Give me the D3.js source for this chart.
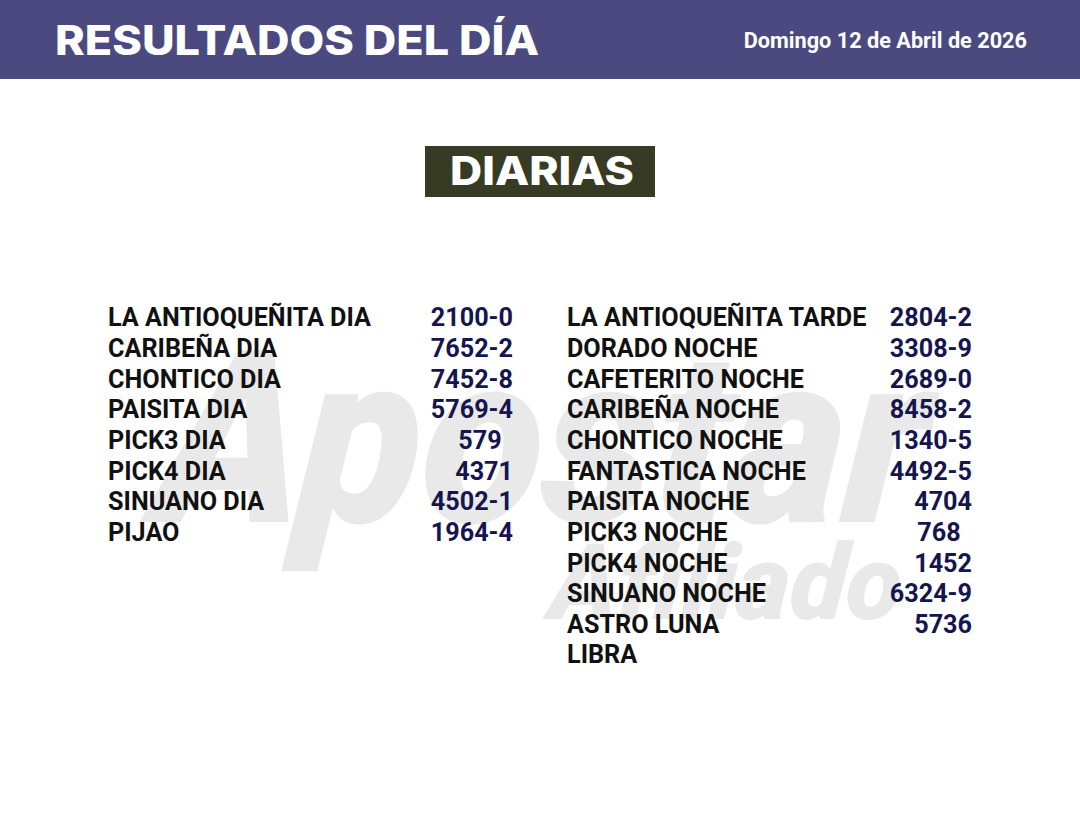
<!DOCTYPE html>
<html>
<head>
<meta charset="utf-8">
<title>Resultados del día</title>
<script src="https://cdn.jsdelivr.net/npm/d3@7"></script>
<style>
  html, body { margin:0; padding:0; background:#fff; }
  svg { display:block; }
</style>
</head>
<body>
<div id="chart"></div>
<script>
var title = "RESULTADOS DEL DÍA";
var dateLabel = "Domingo 12 de Abril de 2026";
var section = "DIARIAS";

var leftNames = ["LA ANTIOQUEÑITA DIA","CARIBEÑA DIA","CHONTICO DIA","PAISITA DIA","PICK3 DIA","PICK4 DIA","SINUANO DIA","PIJAO"];
var leftValues = ["2100-0","7652-2","7452-8","5769-4","579\u00a0\u2009","4371","4502-1","1964-4"];

var rightNames = ["LA ANTIOQUEÑITA TARDE","DORADO NOCHE","CAFETERITO NOCHE","CARIBEÑA NOCHE","CHONTICO NOCHE","FANTASTICA NOCHE","PAISITA NOCHE","PICK3 NOCHE","PICK4 NOCHE","SINUANO NOCHE","ASTRO LUNA","LIBRA"];
var rightValues = ["2804-2","3308-9","2689-0","8458-2","1340-5","4492-5","4704","768\u00a0\u2009","1452","6324-9","5736",""];

var width = 1080, height = 824;

var svg = d3.select("#chart").append("svg")
  .attr("width", width).attr("height", height)
  .attr("viewBox", "0 0 " + width + " " + height);

svg.append("rect").attr("width", width).attr("height", height).attr("fill", "#fff");

// watermark goes under the table, extra skew on top of the italic
function watermark(text, x, y, size, w) {
  svg.append("text")
    .attr("transform", "translate(" + x + "," + y + ") skewX(-5)")
    .attr("textLength", w).attr("lengthAdjust", "spacingAndGlyphs")
    .style("font-family", "Roboto").style("font-size", size + "px")
    .style("font-weight", 900).style("font-style", "italic")
    .attr("fill", "#e9e9e9")
    .text(text);
}
watermark("Apostar", 152, 522, 242, 770);
watermark("Afiliado", 548, 619, 105, 352);

// header
svg.append("rect").attr("width", width).attr("height", 79).attr("fill", "#4b4a80");
svg.append("text").attr("x", 55).attr("y", 55)
  .attr("textLength", 484).attr("lengthAdjust", "spacingAndGlyphs")
  .style("font-family", "Inter").style("font-weight", 800).style("font-size", "40.5px")
  .attr("fill", "#fff").text(title);
svg.append("text").attr("x", 1027).attr("y", 48).attr("text-anchor", "end")
  .style("font-family", "Roboto").style("font-weight", 700).style("font-size", "21.7px")
  .attr("fill", "#fff").text(dateLabel);

// section label
svg.append("rect").attr("x", 425).attr("y", 146).attr("width", 230).attr("height", 51).attr("fill", "#383b24");
svg.append("text").attr("x", 450).attr("y", 185)
  .attr("textLength", 184).attr("lengthAdjust", "spacingAndGlyphs")
  .style("font-family", "Inter").style("font-weight", 800).style("font-size", "39px")
  .attr("fill", "#fff").text(section);

// rows share one y scale
var y = d3.scaleLinear().domain([0, 11]).range([317.5, 654.5]);

function column(names, values, nameX, valueX) {
  var g = svg.append("g")
    .style("font-family", "Roboto").style("font-weight", 700).style("font-size", "25.2px");
  g.selectAll("text.name").data(names).enter().append("text")
    .attr("class", "name").attr("x", nameX)
    .attr("y", function(d, i) { return y(i); }).attr("dy", ".355em")
    .attr("fill", "#111").text(function(d) { return d; });
  g.selectAll("text.value").data(values).enter().append("text")
    .attr("class", "value").attr("x", valueX)
    .attr("y", function(d, i) { return y(i); }).attr("dy", ".355em")
    .attr("text-anchor", "end").attr("fill", "#15154f")
    .text(function(d) { return d; });
}
column(leftNames, leftValues, 108, 513);
column(rightNames, rightValues, 567, 972);
</script>
</body>
</html>
